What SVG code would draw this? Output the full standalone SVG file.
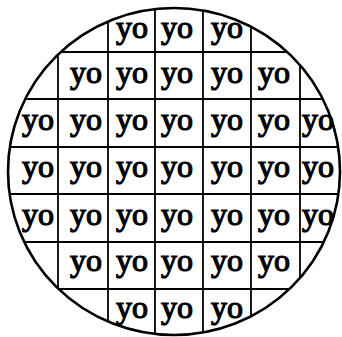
<svg xmlns="http://www.w3.org/2000/svg" width="342" height="337" viewBox="0 0 342 337">
<style>
.grid line{stroke:#000;stroke-width:1.8}
.wafer{fill:none;stroke:#000;stroke-width:2.6}
text{font-family:"Liberation Serif","Times New Roman",serif;font-size:32px;fill:#000;stroke:#000;stroke-width:1.2;text-anchor:middle}
</style>
<defs>
<clipPath id="clip"><ellipse cx="174" cy="171.5" rx="166" ry="163.5"/></clipPath>
</defs>
<rect width="342" height="337" fill="#fff"/>
<g id="connectors" class="grid" clip-path="url(#clip)">
<line x1="0" y1="52" x2="342" y2="52"/>
<line x1="0" y1="99" x2="342" y2="99"/>
<line x1="0" y1="147" x2="342" y2="147"/>
<line x1="0" y1="194" x2="342" y2="194"/>
<line x1="0" y1="242" x2="342" y2="242"/>
<line x1="0" y1="289" x2="342" y2="289"/>
<line x1="58" y1="0" x2="58" y2="337"/>
<line x1="108" y1="0" x2="108" y2="337"/>
<line x1="155" y1="0" x2="155" y2="337"/>
<line x1="203" y1="0" x2="203" y2="337"/>
<line x1="251" y1="0" x2="251" y2="337"/>
<line x1="300" y1="0" x2="300" y2="337"/>
</g>
<g id="wafer"><ellipse class="wafer" cx="174" cy="171.5" rx="166" ry="163.5"/></g>
<g id="row1"><text x="132" y="38">yo</text><text x="177" y="38">yo</text><text x="227" y="38">yo</text></g>
<g id="row2"><text x="86" y="83">yo</text><text x="132" y="83">yo</text><text x="177" y="83">yo</text><text x="227" y="83">yo</text><text x="274" y="83">yo</text></g>
<g id="row3"><text x="38" y="130">yo</text><text x="86" y="130">yo</text><text x="132" y="130">yo</text><text x="177" y="130">yo</text><text x="227" y="130">yo</text><text x="274" y="130">yo</text><text x="318" y="130">yo</text></g>
<g id="row4"><text x="38" y="177">yo</text><text x="86" y="177">yo</text><text x="132" y="177">yo</text><text x="177" y="177">yo</text><text x="227" y="177">yo</text><text x="274" y="177">yo</text><text x="318" y="177">yo</text></g>
<g id="row5"><text x="38" y="225">yo</text><text x="86" y="225">yo</text><text x="132" y="225">yo</text><text x="177" y="225">yo</text><text x="227" y="225">yo</text><text x="274" y="225">yo</text><text x="318" y="225">yo</text></g>
<g id="row6"><text x="86" y="271">yo</text><text x="132" y="271">yo</text><text x="177" y="271">yo</text><text x="227" y="271">yo</text><text x="274" y="271">yo</text></g>
<g id="row7"><text x="132" y="318">yo</text><text x="177" y="318">yo</text><text x="227" y="318">yo</text></g>
</svg>
